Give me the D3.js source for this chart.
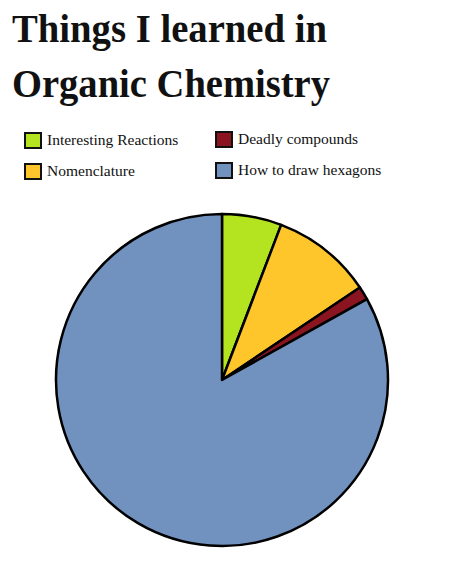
<!DOCTYPE html>
<html>
<head>
<meta charset="utf-8">
<script src="https://cdn.jsdelivr.net/npm/d3@7"></script>
<style>
  body { margin: 0; background: #fff; }
  svg text { font-family: "Liberation Serif", "DejaVu Serif", serif; fill: #111; }
</style>
</head>
<body>
<div id="chart"></div>
<script>
// values (percent)
const categories = ["Interesting Reactions", "Nomenclature", "Deadly compounds", "How to draw hexagons"]
const values = [5.8, 9.8, 1.3, 83.1]
const colors = ["#b4e41f", "#fec62a", "#8a1420", "#7192bf"]
const titleLines = ["Things I learned in", "Organic Chemistry"]

const width = 460, height = 563

const svg = d3.select("#chart")
  .append("svg")
  .attr("width", width)
  .attr("height", height)

// title
svg.selectAll(".title")
  .data(titleLines)
  .enter()
  .append("text")
  .attr("class", "title")
  .attr("x", 12)
  .attr("y", (d, i) => 42 + i * 55)
  .attr("textLength", (d, i) => i == 0 ? 315 : 318)
  .attr("lengthAdjust", "spacingAndGlyphs")
  .style("font-size", "40px")
  .style("font-weight", "bold")
  .text(d => d)

// legend: two columns, two rows
let legend = svg.selectAll(".legend")
  .data(categories)
  .enter()
  .append("g")
  .attr("class", "legend")
  .attr("transform", (d, i) => {
    let col = Math.floor(i / 2), row = i % 2
    return "translate(" + (25 + col * 191) + "," + (133 - col * 1 + row * 31) + ")"
  })

legend.append("rect")
  .attr("width", 16)
  .attr("height", 15)
  .attr("fill", (d, i) => colors[i])
  .attr("stroke", "#111")
  .attr("stroke-width", 2)

legend.append("text")
  .attr("x", 22)
  .attr("y", 11.5)
  .style("font-size", "15.5px")
  .text(d => d)

// pie
const radius = 166
const pie = d3.pie().sort(null).value(d => d)
const arc = d3.arc().innerRadius(0).outerRadius(radius)

let g = svg.append("g")
  .attr("transform", "translate(222,380)")

g.selectAll("path")
  .data(pie(values))
  .enter()
  .append("path")
  .attr("d", arc)
  .attr("fill", (d, i) => colors[i])
  .attr("stroke", "#000")
  .attr("stroke-width", 2.5)
  .attr("stroke-linejoin", "round")
</script>
</body>
</html>
